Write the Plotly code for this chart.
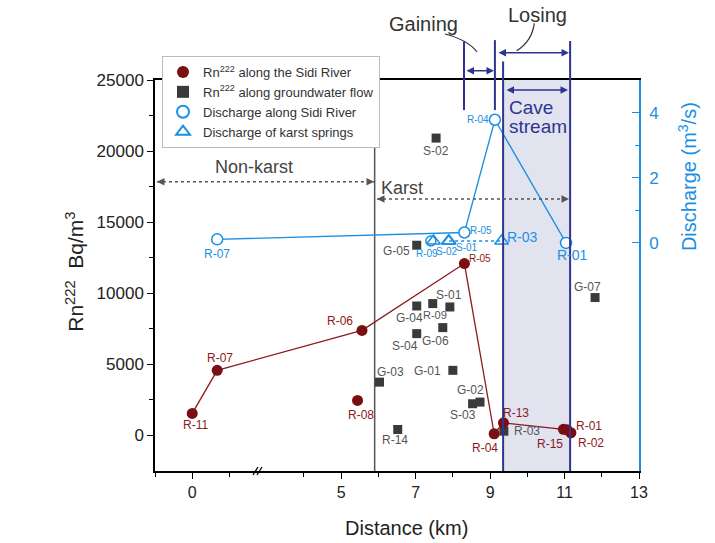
import plotly.graph_objects as go

# ---------------- data (distance in km, Rn in Bq/m3, discharge in m3/s) -------------
river_names = ["R-11", "R-07", "R-06", "R-05", "R-04", "R-13", "R-15", "R-01", "R-02"]
river_km = [0.0, 0.67, 5.56, 8.31, 9.11, 9.36, 10.97, 11.07, 11.17]
river_rn = [1550, 4580, 7390, 12090, 120, 890, 430, 400, 190]

river_extra_names = ["R-08"]
river_extra_km = [5.44]
river_extra_rn = [2465]

gw_names = ["S-02", "G-05", "R-09", "S-01", "G-04", "G-06", "S-04", "G-07",
            "G-03", "G-01", "S-03", "G-02", "R-14", "R-03"]
gw_km = [7.55, 7.03, 7.46, 7.92, 7.03, 7.73, 7.03, 11.82,
         6.03, 8.00, 8.53, 8.73, 6.52, 9.37]
gw_rn = [20915, 13380, 9275, 9035, 9105, 7585, 7160, 9700,
         3750, 4580, 2230, 2345, 420, 300]

dis_names = ["R-07", "R-05", "R-04", "R-01"]
dis_km = [0.67, 8.31, 9.13, 11.04]
dis_q = [0.11, 0.32, 3.78, 0.0]

dis_extra_km = [7.41]
dis_extra_q = [0.06]

spring_names = ["R-09", "S-02", "S-01", "R-03"]
spring_km = [7.48, 7.88, 7.90, 9.31]
spring_q = [0.06, 0.06, 0.06, 0.06]

x_tick_km = [0, 5, 7, 9, 11, 13]
x_minor_km = [-1, 1, 4, 6, 8, 10, 12]
y_ticks = [0, 5000, 10000, 15000, 20000, 25000]
y_minor = [2500, 7500, 12500, 17500, 22500]
y2_ticks = [0, 2, 4]
y2_minor = [1, 3]

karst_boundary_km = 5.9
cave_km = [9.35, 11.15]
gaining_km = [8.30, 9.13]


# ---------------- broken x axis: 2-4 km collapsed by 1 km ----------------
def ux(km):
    return km if km < 2 else km - 1


def uxs(vals):
    return [ux(v) for v in vals]


RED = "#7A0E10"
RED_T = "#8B1A1A"
GRAY = "#3A3A3A"
GRAY_T = "#555555"
BLUE = "#1A8FE3"
NAVY = "#2E3590"
FONT = "Liberation Sans, Arial, sans-serif"

fig = go.Figure()

# groundwater squares
fig.add_trace(go.Scatter(x=uxs(gw_km), y=gw_rn, mode="markers",
                         marker=dict(symbol="square", size=9, color=GRAY),
                         showlegend=False, hoverinfo="skip"))
# river Rn
fig.add_trace(go.Scatter(x=uxs(river_km), y=river_rn, mode="lines+markers",
                         line=dict(color=RED_T, width=1.3),
                         marker=dict(size=11, color=RED), showlegend=False))
fig.add_trace(go.Scatter(x=uxs(river_extra_km), y=river_extra_rn, mode="markers",
                         marker=dict(size=11, color=RED), showlegend=False))
# discharge
fig.add_trace(go.Scatter(x=uxs(dis_km), y=dis_q, yaxis="y2", mode="lines+markers",
                         line=dict(color=BLUE, width=1.3),
                         marker=dict(symbol="circle", size=11, color="white",
                                     line=dict(color=BLUE, width=1.5)),
                         showlegend=False))
fig.add_trace(go.Scatter(x=uxs(dis_extra_km), y=dis_extra_q, yaxis="y2", mode="markers",
                         marker=dict(symbol="circle-open", size=10, color=BLUE,
                                     line=dict(color=BLUE, width=1.5)),
                         showlegend=False))
fig.add_trace(go.Scatter(x=uxs(spring_km[2:]), y=spring_q[2:], yaxis="y2", mode="lines",
                         line=dict(color=BLUE, width=1.6, dash="dot"), showlegend=False))
fig.add_trace(go.Scatter(x=uxs(spring_km), y=spring_q, yaxis="y2", mode="markers",
                         marker=dict(symbol="triangle-up-open", size=12, color=BLUE,
                                     line=dict(color=BLUE, width=1.5)),
                         showlegend=False))

# legend entries
fig.add_trace(go.Scatter(x=[None], y=[None], mode="markers", name="Rn<sup>222</sup> along the Sidi River",
                         marker=dict(size=10, color=RED)))
fig.add_trace(go.Scatter(x=[None], y=[None], mode="markers", name="Rn<sup>222</sup> along groundwater flow",
                         marker=dict(symbol="square", size=8, color=GRAY)))
fig.add_trace(go.Scatter(x=[None], y=[None], mode="markers", name="Discharge along Sidi River",
                         marker=dict(symbol="circle-open", size=9, color=BLUE,
                                     line=dict(color=BLUE, width=1.5))))
fig.add_trace(go.Scatter(x=[None], y=[None], mode="markers", name="Discharge of karst springs",
                         marker=dict(symbol="triangle-up-open", size=10, color=BLUE,
                                     line=dict(color=BLUE, width=1.5))))

# ---------------- point labels ----------------
ann = []
river_off = {"R-11": (3, -12), "R-07": (3, 12), "R-06": (-22, 9), "R-05": (16, 5),
             "R-04": (-9, -14), "R-13": (13, 10), "R-15": (-13, -15), "R-01": (22, 4),
             "R-02": (20, -10), "R-08": (3, -15)}
river_size = {"R-05": 10}
for n, k, v in zip(river_names + river_extra_names, river_km + river_extra_km, river_rn + river_extra_rn):
    dx, dy = river_off[n]
    ann.append(dict(x=ux(k), y=v, xref="x", yref="y", text=n, showarrow=False,
                    xanchor="center", yanchor="middle",
                    xshift=dx, yshift=dy, font=dict(color=RED_T, size=river_size.get(n, 12))))

gw_off = {"S-02": (0, -13), "G-05": (-20, -6), "R-09": (2, -11), "S-01": (-1, 12),
          "G-04": (-7, -12), "G-06": (-7, -13), "S-04": (-12, -12), "G-07": (-8, 11),
          "G-03": (11, 10), "G-01": (-25, -1), "S-03": (-10, -11), "G-02": (-10, 12),
          "R-14": (-3, -11), "R-03": (23, 0)}
gw_size = {"R-09": 11}
for n, k, v in zip(gw_names, gw_km, gw_rn):
    dx, dy = gw_off[n]
    ann.append(dict(x=ux(k), y=v, xref="x", yref="y", text=n, showarrow=False,
                    xanchor="center", yanchor="middle",
                    xshift=dx, yshift=dy, font=dict(color=GRAY_T, size=gw_size.get(n, 12))))

dis_off = {"R-07": (0, -15), "R-05": (17, 2), "R-04": (-17, 0), "R-01": (6, -12)}
dis_size = {"R-07": 12, "R-05": 10, "R-04": 10, "R-01": 14}
for n, k, v in zip(dis_names, dis_km, dis_q):
    dx, dy = dis_off[n]
    ann.append(dict(x=ux(k), y=v, xref="x", yref="y2", text=n, showarrow=False,
                    xanchor="center", yanchor="middle",
                    xshift=dx, yshift=dy, font=dict(color=BLUE, size=dis_size[n])))

spring_off = {"R-09": (-6, -13), "S-02": (-1, -11), "S-01": (18, -7), "R-03": (21, 4)}
spring_size = {"R-09": 10, "S-02": 10, "S-01": 10, "R-03": 14}
for n, k, v in zip(spring_names, spring_km, spring_q):
    dx, dy = spring_off[n]
    ann.append(dict(x=ux(k), y=v, xref="x", yref="y2", text=n, showarrow=False,
                    xanchor="center", yanchor="middle",
                    xshift=dx, yshift=dy, font=dict(color=BLUE, size=spring_size[n])))

# ---------------- region annotations ----------------
TXT = "#333333"


def txt(x, y, s, size, color, xanchor="center", angle=0):
    return dict(x=x, y=y, xref="paper", yref="paper", text=s, showarrow=False,
                xanchor=xanchor, yanchor="middle", textangle=angle,
                font=dict(size=size, color=color))


ann += [
    txt(0.2045, 0.778, "Non-karst", 18, "#444444"),
    txt(0.463, 0.723, "Karst", 18, "#444444", xanchor="left"),
    txt(0.554, 1.143, "Gaining", 20, TXT),
    txt(0.791, 1.166, "Losing", 20, TXT),
    txt(0.727, 0.930, "Cave", 19, NAVY, xanchor="left"),
    txt(0.727, 0.881, "stream", 19, NAVY, xanchor="left"),
    # axis titles
    txt(0.52, -0.146, "Distance (km)", 20, "#222222"),
    txt(-0.167, 0.51, "Rn<sup>222</sup>  Bq/m<sup>3</sup>", 21, "#222222", angle=-90),
    txt(1.099, 0.754, "Discharge (m<sup>3</sup>/s)", 20, BLUE, angle=-90),
]

# solid double arrows (navy)
for xh, yy, length in [(0.7004, 1.0238, 29), (0.8554, 1.0698, 72), (0.8533, 0.9744, 63)]:
    ann.append(dict(x=xh, y=yy, xref="paper", yref="paper", ax=-length, ay=0, text="",
                    showarrow=True, arrowside="end+start", arrowhead=2, arrowsize=1,
                    arrowwidth=1.5, arrowcolor=NAVY, standoff=0, startstandoff=0))
# heads for dotted double arrows
for x0, x1, yy in [(0.004, 0.4525, 0.740), (0.4587, 0.8554, 0.6957)]:
    ann.append(dict(x=x1, y=yy, xref="paper", yref="paper", ax=-7, ay=0, text="",
                    showarrow=True, arrowhead=2, arrowsize=1, arrowwidth=1.5,
                    arrowcolor="#555555", standoff=0))
    ann.append(dict(x=x0, y=yy, xref="paper", yref="paper", ax=7, ay=0, text="",
                    showarrow=True, arrowhead=2, arrowsize=1, arrowwidth=1.5,
                    arrowcolor="#555555", standoff=0))

shapes = [
    # cave stream band
    dict(type="rect", xref="x", yref="paper", x0=ux(cave_km[0]), x1=ux(cave_km[1]), y0=0, y1=1,
         fillcolor="#E1E3EF", line=dict(width=0), layer="below"),
    dict(type="line", xref="x", yref="paper", x0=ux(cave_km[0]), x1=ux(cave_km[0]), y0=0, y1=1.047,
         line=dict(color=NAVY, width=2)),
    dict(type="line", xref="x", yref="paper", x0=ux(cave_km[1]), x1=ux(cave_km[1]), y0=0, y1=1.100,
         line=dict(color=NAVY, width=2)),
    # gaining reach markers
    dict(type="line", xref="x", yref="paper", x0=ux(gaining_km[0]), x1=ux(gaining_km[0]), y0=0.923, y1=1.098,
         line=dict(color=NAVY, width=2)),
    dict(type="line", xref="x", yref="paper", x0=ux(gaining_km[1]), x1=ux(gaining_km[1]), y0=0.923, y1=1.102,
         line=dict(color=NAVY, width=2)),
    # karst boundary
    dict(type="line", xref="x", yref="paper", x0=ux(karst_boundary_km), x1=ux(karst_boundary_km), y0=0, y1=1,
         line=dict(color="#555555", width=1.5), layer="below"),
    # dotted double arrows
    dict(type="line", xref="paper", yref="paper", x0=0.004, x1=0.4525, y0=0.740, y1=0.740,
         line=dict(color="#555555", width=1.5, dash="dot")),
    dict(type="line", xref="paper", yref="paper", x0=0.4587, x1=0.8554, y0=0.6957, y1=0.6957,
         line=dict(color="#555555", width=1.5, dash="dot")),
    # leader lines
    dict(type="path", xref="paper", yref="paper",
         path="M 0.5992 1.1176 Q 0.6467 1.1023 0.6653 1.0716", line=dict(color=TXT, width=1.2)),
    dict(type="path", xref="paper", yref="paper",
         path="M 0.7837 1.1450 Q 0.7789 1.0997 0.7473 1.0749", line=dict(color=TXT, width=1.2)),
    # axis break marks
    dict(type="line", xref="paper", yref="paper", x0=0.2025, x1=0.2128, y0=-0.0102, y1=0.0102,
         line=dict(color="black", width=1.3)),
    dict(type="line", xref="paper", yref="paper", x0=0.2107, x1=0.2211, y0=-0.0102, y1=0.0102,
         line=dict(color="black", width=1.3)),
]

fig.update_layout(
    width=715, height=543,
    margin=dict(l=155, r=76, t=80, b=72, autoexpand=False),
    paper_bgcolor="white", plot_bgcolor="white",
    font=dict(family=FONT, color="#222222"),
    annotations=ann, shapes=shapes,
    legend=dict(x=0.0145, y=1.0614, xanchor="left", yanchor="top",
                bgcolor="white", bordercolor="#BBBBBB", borderwidth=1,
                font=dict(size=13, color="#333333"), itemsizing="constant",
                tracegroupgap=0),
    xaxis=dict(range=[-1, 12], tickmode="array", tickvals=uxs(x_tick_km),
               ticktext=[str(v) for v in x_tick_km], ticks="outside", ticklen=6, tickwidth=1.2,
               tickcolor="black", showline=True, linecolor="black", linewidth=1.5, mirror=True,
               showgrid=False, zeroline=False, tickfont=dict(size=16, color="#222222"),
               minor=dict(tickmode="array", tickvals=uxs(x_minor_km), ticks="outside",
                          ticklen=4, tickwidth=1.2, tickcolor="black", showgrid=False)),
    yaxis=dict(range=[-2500, 25000], tickmode="array", tickvals=y_ticks,
               ticktext=[str(v) for v in y_ticks],
               ticks="outside", ticklen=6, tickwidth=1.2, tickcolor="black",
               showline=True, linecolor="black", linewidth=1.5, showgrid=False, zeroline=False,
               tickfont=dict(size=17, color="#222222"),
               minor=dict(tickmode="array", tickvals=y_minor, ticks="outside", ticklen=4,
                          tickwidth=1.2, tickcolor="black", showgrid=False)),
    yaxis2=dict(overlaying="y", side="right", range=[-7, 5], tickmode="array", tickvals=y2_ticks,
                ticktext=[str(v) for v in y2_ticks],
                ticks="inside", ticklen=7, tickwidth=1.2, tickcolor=BLUE, showline=True,
                linecolor=BLUE, linewidth=1.8, showgrid=False, zeroline=False,
                ticklabelstandoff=5, tickfont=dict(size=17, color=BLUE),
                minor=dict(tickmode="array", tickvals=y2_minor, ticks="inside", ticklen=4,
                           tickwidth=1.2, tickcolor=BLUE, showgrid=False)),
)

fig.write_html("out.html")
